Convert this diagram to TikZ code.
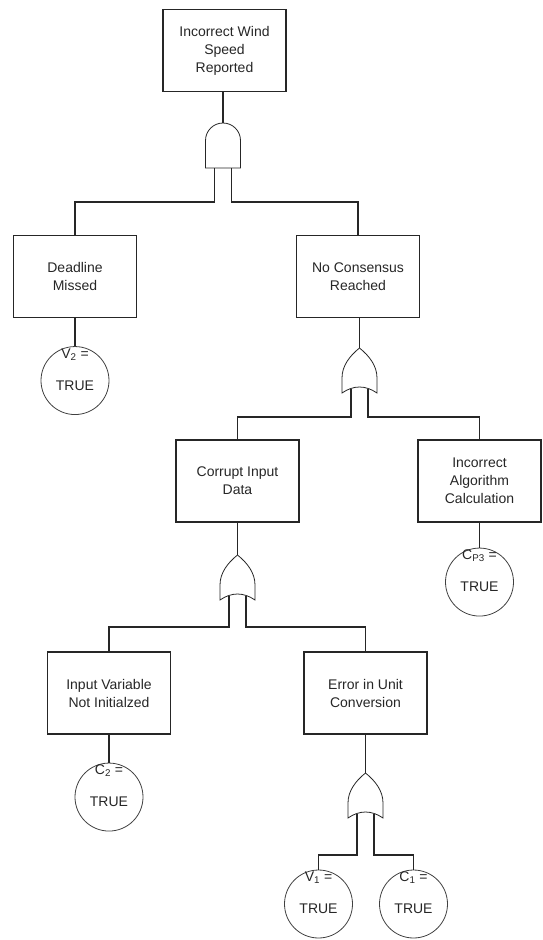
\documentclass[tikz,border=0pt]{standalone}
\usepackage{fontspec}
\setmainfont{Liberation Sans}
\usepackage{tikz}
\usetikzlibrary{positioning}

\tikzset{
    wire/.style={line width=1.3pt, draw=black!85},
    gateline/.style={line width=0.8pt, draw=black!85},
    % AND gate: flat base, round top
    andgate/.pic={
        \draw[gateline] (-17.5,45) -- (-17.5,17.5)
            .. controls (-17.5,7.83) and (-9.67,0) .. (0,0)
            .. controls (9.67,0) and (17.5,7.83) .. (17.5,17.5)
            -- (17.5,45) -- cycle;
        \coordinate (-in) at (0,0);
        \coordinate (-l) at (-8.5,45);
        \coordinate (-r) at (8.5,45);
    },
    % OR gate: pointed top, hollow base
    orgate/.pic={
        \draw[gateline] (0,0) .. controls (10,8) and (17.5,18) .. (17.5,30)
            -- (17.5,45) .. controls (6,37) and (-6,37) .. (-17.5,45)
            -- (-17.5,30) .. controls (-17.5,18) and (-10,8) .. (0,0) -- cycle;
        \coordinate (-in) at (0,0);
        \coordinate (-l) at (-8.5,41);
        \coordinate (-r) at (8.5,41);
    }
}

\begin{document}
\begin{tikzpicture}[
    x=1pt, y=-1pt,
    node distance=28pt,
    box/.style={rectangle, draw=black!85, line width=1.3pt, minimum width=123pt, minimum height=82pt,
        align=center, font=\fontsize{14}{18}\selectfont, text=black!85},
    event/.style={circle, draw=black!75, line width=0.8pt, minimum size=68pt, inner sep=0pt,
        text height=20pt, font=\fontsize{14}{18}\selectfont, text=black!85},
    evlabel/.style={anchor=base, yshift=-12pt, inner sep=0pt, font=\fontsize{14}{18}\selectfont, text=black!85}
]
\useasboundingbox (0,0) rectangle (542,940);

% Events
\node[box] (top) at (224.5,50.5) {Incorrect Wind\\Speed\\Reported};
\node[box] (deadline) at (75,276.5) {Deadline\\Missed};
\node[box] (consensus) at (358,276.5) {No Consensus\\Reached};
\node[box] (corrupt) at (237.5,481) {Corrupt Input\\Data};
\node[box] (algo) at (479.5,481) {Incorrect\\Algorithm\\Calculation};
\node[box] (inputvar) at (109,693) {Input Variable\\Not Initialzed};
\node[box] (unitconv) at (365.5,693) {Error in Unit\\Conversion};

% Basic conditions
\node[event, below=of deadline, label={[evlabel]north:{V\textsubscript{2} =}}] (v2) {TRUE};
\node[event, below=25pt of algo, label={[evlabel]north:{C\textsubscript{P3} =}}] (cp3) {TRUE};
\node[event, below=of inputvar, label={[evlabel]north:{C\textsubscript{2} =}}] (c2) {TRUE};
\node[event, label={[evlabel]north:{V\textsubscript{1} =}}] (v1) at (318.5,904) {TRUE};
\node[event, label={[evlabel]north:{C\textsubscript{1} =}}] (c1) at (413.5,904) {TRUE};

% Gates
\pic (gand) at (223,123) {andgate};
\pic (gor1) at (359.5,348) {orgate};
\pic (gor2) at (237.5,555) {orgate};
\pic (gor3) at (365.5,773) {orgate};

% Connections
\draw[wire] (gand-in |- top.south) -- (gand-in);
\draw[wire] (gand-l) -- ++(0,34) -| (deadline.north);
\draw[wire] (gand-r) -- ++(0,34) -| (consensus.north);
\draw[wire] (deadline) -- (v2);
\draw[wire] (gor1-in |- consensus.south) -- (gor1-in);
\draw[wire] (gor1-l) -- ++(0,28) -| (corrupt.north);
\draw[wire] (gor1-r) -- ++(0,28) -| (algo.north);
\draw[wire] (algo) -- (cp3);
\draw[wire] (corrupt) -- (gor2-in);
\draw[wire] (gor2-l) -- ++(0,31) -| (inputvar.north);
\draw[wire] (gor2-r) -- ++(0,31) -| (unitconv.north);
\draw[wire] (inputvar) -- (c2);
\draw[wire] (unitconv) -- (gor3-in);
\draw[wire] (gor3-l) -- ++(0,41) -| (v1.north);
\draw[wire] (gor3-r) -- ++(0,41) -| (c1.north);

\end{tikzpicture}
\end{document}
